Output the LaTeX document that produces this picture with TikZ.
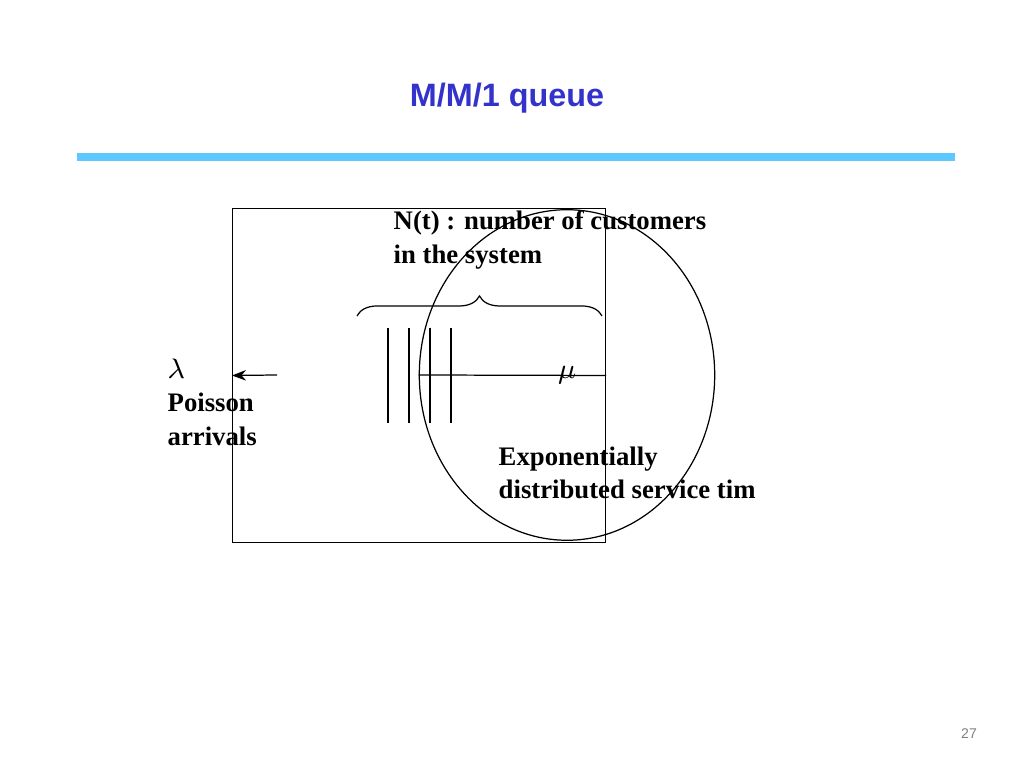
\documentclass[tikz,border=0pt]{standalone}
\usepackage{fontspec}
\setmainfont{Liberation Serif}
\setsansfont{Liberation Sans}
\usetikzlibrary{decorations.pathreplacing,arrows.meta,shapes.geometric}
\definecolor{titleblue}{HTML}{3333CC}
\definecolor{barblue}{HTML}{5CC8FF}
\begin{document}
\begin{tikzpicture}[x=0.01cm,y=-0.01cm,
  txt/.style={font=\fontsize{7.6}{9.6}\selectfont\bfseries, anchor=north west, inner sep=0, align=left},
  ln/.style={line width=0.35pt}]
\useasboundingbox (0,0) rectangle (1024,768);
\node[font=\fontsize{9.2}{11}\selectfont\sffamily\bfseries, text=titleblue] (title) at (507,98) {M/M/1 queue};
\draw[barblue, line width=2pt] (77,157) coordinate (b1) -- (955,157) coordinate (b2);
\node[txt] (nt) at (393,210) {N(t) : number of customers\\in the system};
\node[draw, ln, minimum width=106, minimum height=95, inner sep=0] (q) at (419,375.5) {};
\foreach \x in {388,409,430,451} \draw[ln] (\x,328) -- (\x,423);
\node[draw, ln, ellipse, minimum width=84, minimum height=94, inner sep=0] (mu) at (567,375) {\fontsize{8}{9}\selectfont$\mu$};
\draw[ln] (q.east) -- (mu.west);
\coordinate (src) at (277,375);
\draw[ln, -{Stealth[length=4pt,width=3pt]}] (src) -- (q.west);
\draw[ln, decorate, decoration={brace, amplitude=0.2cm}] (357,316) coordinate (br1) -- (602,316) coordinate (br2);
\node[txt] (lam) at (167,358) {$\lambda$\\Poisson\\arrivals};
\node[txt] (exp) at (498,446) {Exponentially\\distributed service tim};
\node[font=\fontsize{4}{5}\selectfont\sffamily, text=gray] (pg) at (969,734) {27};
\end{tikzpicture}
\end{document}
